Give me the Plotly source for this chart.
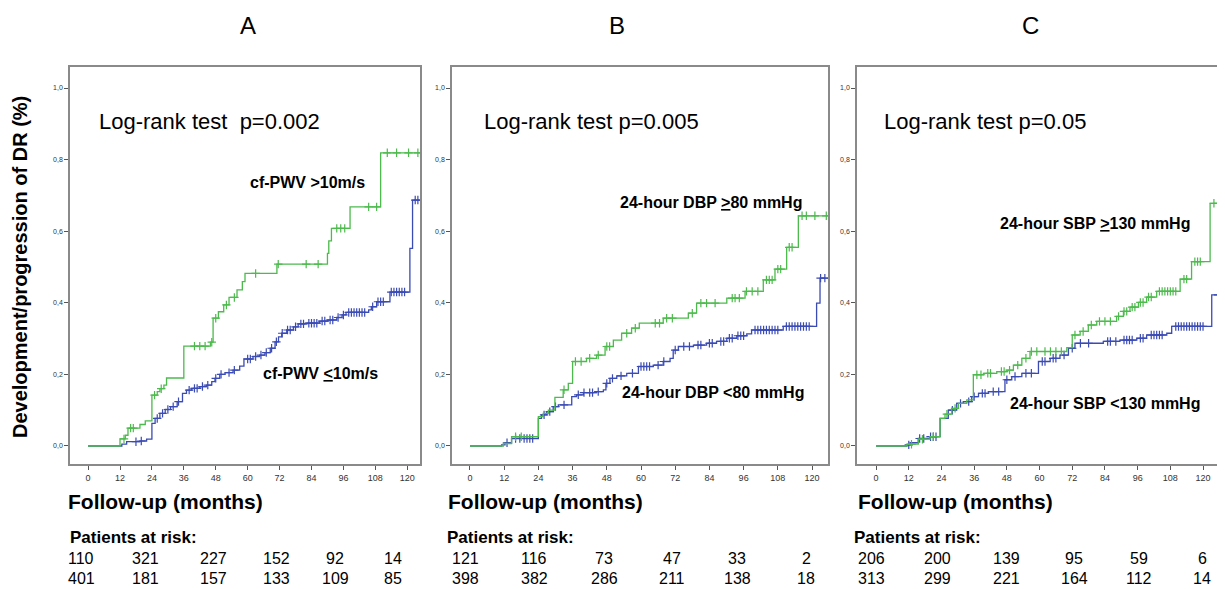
import plotly.graph_objects as go

W, H = 1225, 589
OFF = 8  # default page body margin in the written HTML

# ---------------- data ----------------
panel_titles = ["A", "B", "C"]
logrank_texts = ["Log-rank test\u00a0 p=0.002", "Log-rank test p=0.005", "Log-rank test p=0.05"]
hi_labels = ["cf-PWV >10m/s", "24-hour DBP <u>></u>80 mmHg", "24-hour SBP <u>></u>130 mmHg"]
lo_labels = ["cf-PWV <u><</u>10m/s", "24-hour DBP <80 mmHg", "24-hour SBP <130 mmHg"]

x_ticks = [0, 12, 24, 36, 48, 60, 72, 84, 96, 108, 120]
y_ticks = [0.0, 0.2, 0.4, 0.6, 0.8, 1.0]
y_tick_labels = ["0,0", "0,2", "0,4", "0,6", "0,8", "1,0"]

# Panel A
a_hi_t = [0, 12, 14, 15, 19.5, 21.5, 24, 26, 27, 28.5, 29.5, 36, 46, 47, 49, 51, 53, 56, 58, 59, 71,
          90, 90.5, 91.5, 98.5, 110, 124.8]
a_hi_v = [0, 0.02, 0.03, 0.05, 0.06, 0.07, 0.142, 0.152, 0.16, 0.17, 0.19, 0.279, 0.29, 0.357, 0.375,
          0.394, 0.415, 0.436, 0.459, 0.482, 0.508, 0.538, 0.573, 0.608, 0.668, 0.819, 0.819]
a_hi_cens = [13.5, 16, 17, 25, 27.5, 40, 42, 44, 46.5, 48, 52, 55, 63, 71.5, 82, 86.5, 93.5, 95, 96.5,
             105.5, 108.5, 112.5, 116, 120.5, 124]
a_lo_t = [0, 12, 12.7, 14.5, 19.5, 22, 24, 25.2, 27, 29, 31, 33.5, 35.5, 37, 39, 42, 44.5, 46.5, 47.7,
          49.5, 51.5, 54.5, 57, 58.6, 62, 64.5, 66.5, 68.5, 70.3, 71.6, 72.8, 74.7, 77.2, 79, 82, 87, 90,
          93.5, 95.5, 97, 105.5, 106.5, 108.5, 113.5, 121, 122, 124.8]
a_lo_v = [0, 0.0, 0.005, 0.012, 0.014, 0.019, 0.063, 0.077, 0.091, 0.102, 0.110, 0.124, 0.147, 0.156,
          0.161, 0.166, 0.170, 0.180, 0.189, 0.200, 0.205, 0.212, 0.223, 0.243, 0.250, 0.254, 0.261,
          0.273, 0.291, 0.305, 0.315, 0.324, 0.333, 0.341, 0.343, 0.349, 0.352, 0.359, 0.366, 0.373,
          0.380, 0.389, 0.403, 0.430, 0.552, 0.687, 0.687]
a_lo_cens = [18, 20, 26, 28, 30, 32, 34, 38, 40, 41, 43, 45, 48, 50, 53, 55, 60, 61, 63, 65, 67, 69,
             70.8, 73, 75, 76, 78, 80, 81, 83, 84, 85, 86, 88, 89, 91, 92, 94, 96, 98, 99, 100, 101, 102,
             103, 104, 107, 109, 110, 111, 114, 115, 116, 117, 118, 119, 123, 124]

# Panel B
b_hi_t = [0, 11.7, 14.6, 24, 25.7, 27.5, 29.8, 32.7, 34.5, 36, 40.9, 44.4, 47.4, 50.3, 53.2, 56.7,
          59.4, 67.8, 76.6, 79.5, 90.1, 96.5, 102.9, 107, 111.1, 115.2, 125.6]
b_hi_v = [0, 0.007, 0.026, 0.082, 0.091, 0.10, 0.136, 0.157, 0.175, 0.236, 0.245, 0.254, 0.278, 0.296,
          0.315, 0.329, 0.343, 0.357, 0.371, 0.399, 0.413, 0.432, 0.464, 0.494, 0.555, 0.643, 0.643]
b_hi_cens = [16, 18, 33, 37, 39, 42, 45, 48, 49, 55, 58, 65, 66.5, 69, 71, 78, 81, 83, 86, 92, 93,
             94.5, 97, 99, 101, 104, 105, 106, 108, 109, 112, 113, 116.5, 118, 121, 125]
b_lo_t = [0, 11.1, 12.3, 14.6, 24, 25.1, 26.9, 29.2, 31, 35.7, 37.4, 39.8, 44.4, 46.8, 47.7, 49.1,
          51.5, 55, 59.1, 64.3, 67.8, 70.2, 71.3, 73.1, 78.4, 83, 86.5, 90.1, 93.6, 97.1, 98.8, 109.9,
          121.6, 122.8, 125.6]
b_lo_v = [0, 0.003, 0.009, 0.021, 0.077, 0.087, 0.096, 0.11, 0.115, 0.138, 0.143, 0.149, 0.152, 0.157,
          0.175, 0.189, 0.196, 0.203, 0.222, 0.226, 0.236, 0.245, 0.268, 0.278, 0.282, 0.287, 0.292,
          0.301, 0.308, 0.313, 0.324, 0.334, 0.399, 0.469, 0.469]
b_lo_cens = [13, 16, 17.5, 19, 20, 21, 22, 26, 28, 30, 33, 38, 40, 42, 43, 45, 48, 50, 53, 57, 60, 61,
             62, 63, 66, 68, 72, 75, 77, 80, 81, 84, 85, 88, 89, 91, 92, 94, 95, 96, 100, 101, 102, 103,
             104, 105, 106, 107, 108, 111, 112, 113, 114, 115, 116, 117, 118, 119, 123, 124.5]

# Panel C
c_hi_t = [0, 11.3, 15.5, 19.8, 23.5, 25.3, 27.8, 30.2, 33.3, 35.7, 39.4, 44.3, 48, 50.4, 53.5, 56.5,
          70, 72, 74.9, 77.9, 81, 88.3, 90.8, 93.2, 96.3, 99.3, 103, 111.6, 115.8, 122.6, 126.5]
c_hi_v = [0, 0.005, 0.019, 0.026, 0.077, 0.089, 0.105, 0.119, 0.129, 0.199, 0.203, 0.208, 0.212, 0.226,
          0.245, 0.264, 0.275, 0.31, 0.32, 0.338, 0.348, 0.362, 0.376, 0.388, 0.401, 0.416, 0.432,
          0.466, 0.515, 0.678, 0.678]
c_hi_cens = [13, 17, 21, 26, 29, 37, 38.5, 41, 42, 46, 47, 49, 52, 55, 57, 59, 62, 64, 66, 68, 73, 76,
             79, 82, 84, 86, 89, 91, 92, 94, 95, 97, 98, 100, 101, 104, 105, 106, 107, 108, 109, 110,
             113, 114, 117, 118, 119, 124, 125.5]
c_lo_t = [0, 11.3, 12.5, 15.5, 19.8, 23.5, 26.5, 29.6, 32, 35.1, 37.6, 41.2, 47.3, 49.8, 53.5, 59.6,
          63.9, 67.5, 70.6, 73, 83.4, 89.5, 95.7, 99.3, 106.7, 108.5, 123.2, 126.5]
c_lo_v = [0, 0.003, 0.009, 0.021, 0.026, 0.077, 0.1, 0.119, 0.124, 0.138, 0.147, 0.152, 0.185, 0.194,
          0.203, 0.236, 0.245, 0.254, 0.273, 0.287, 0.292, 0.296, 0.301, 0.310, 0.315, 0.334, 0.422,
          0.422]
c_lo_cens = [12, 16, 17.5, 20, 21, 22, 28, 31, 34, 36, 39, 40, 43, 45, 48, 51, 55, 57, 61, 62, 65, 66,
             69, 72, 75, 78, 85, 86, 88, 91, 92, 93, 94, 97, 98, 101, 102, 103, 104, 105, 110, 111, 112,
             113, 114, 115, 116, 117, 118, 119, 120, 125.5]

at_risk_hi = [[110, 321, 227, 152, 92, 14], [121, 116, 73, 47, 33, 2], [206, 200, 139, 95, 59, 6]]
at_risk_lo = [[401, 181, 157, 133, 109, 85], [398, 382, 286, 211, 138, 18], [313, 299, 221, 164, 112, 14]]

# ---------------- layout geometry (reference pixels) ----------------
GREEN = "#4cba4c"
BLUE = "#3b4bb4"
FRAME = "#8a8a8a"
FONT = "Arial"

panels = [
    dict(hi=(a_hi_t, a_hi_v, a_hi_cens), lo=(a_lo_t, a_lo_v, a_lo_cens),
         px=(70, 420), xr=(-6.8, 124.8), title_x=248, lr_x=97,
         hi_lab=(307, 182), lo_lab=(320, 373), fu_x=66, par_x=68,
         cols=[81, 145, 213, 276, 335, 393]),
    dict(hi=(b_hi_t, b_hi_v, b_hi_cens), lo=(b_lo_t, b_lo_v, b_lo_cens),
         px=(452, 828), xr=(-6.3, 125.6), title_x=617, lr_x=482,
         hi_lab=(711, 202), lo_lab=(713, 392), fu_x=446, par_x=445,
         cols=[466, 534, 604, 672, 737, 806]),
    dict(hi=(c_hi_t, c_hi_v, c_hi_cens), lo=(c_lo_t, c_lo_v, c_lo_cens),
         px=(857, 1221), xr=(-7.0, 126.6), title_x=1030, lr_x=882,
         hi_lab=(1095, 223), lo_lab=(1105, 403), fu_x=856, par_x=852,
         cols=[871, 937, 1006, 1074, 1139, 1202]),
]
PLOT_TOP, PLOT_BOT = 67, 464
Y_RANGE = (-0.0503, 1.0587)

FW, FH = W - OFF, H - OFF


def fx(p):
    return (p - OFF) / FW


def fy(p):
    return 1 - (p - OFF) / FH


def step_value(ts, vs, c):
    val = vs[0]
    for t, v in zip(ts, vs):
        if t <= c:
            val = v
        else:
            break
    return val


fig = go.Figure()
annotations = []


def ann(text, x, y, size, bold=False, xanchor="center", family=FONT, pad=1):
    annotations.append(dict(text=("<b>%s</b>" % text) if bold else text, x=fx(x), y=fy(y),
                            xref="paper", yref="paper", showarrow=False, xanchor=xanchor,
                            yanchor="middle", borderpad=pad,
                            font=dict(family=family, size=size, color="black")))


for i, p in enumerate(panels):
    suffix = "" if i == 0 else str(i + 1)
    xa, ya = "x" + suffix, "y" + suffix
    for key, color in (("lo", BLUE), ("hi", GREEN)):
        ts, vs, cens = p[key]
        fig.add_trace(go.Scatter(x=ts, y=vs, mode="lines", line=dict(color=color, width=1.3, shape="hv"),
                                 xaxis=xa, yaxis=ya, showlegend=False, hoverinfo="skip"))
        fig.add_trace(go.Scatter(x=cens, y=[step_value(ts, vs, c) for c in cens], mode="markers",
                                 marker=dict(symbol="cross-thin", size=6, line=dict(color=color, width=1.2)),
                                 xaxis=xa, yaxis=ya, showlegend=False, hoverinfo="skip"))

    axis_common = dict(showline=True, mirror=True, linecolor=FRAME, linewidth=1.5, showgrid=False,
                       zeroline=False, ticks="outside", ticklen=4, tickcolor="#555", tickwidth=1)
    fig.update_layout(**{
        "xaxis" + suffix: dict(axis_common, domain=[fx(p["px"][0]), fx(p["px"][1])], range=list(p["xr"]),
                               tickvals=x_ticks, ticktext=[str(t) for t in x_ticks],
                               tickfont=dict(family=FONT, size=9, color="#333"), anchor=ya),
        "yaxis" + suffix: dict(axis_common, domain=[fy(PLOT_BOT), fy(PLOT_TOP)], range=list(Y_RANGE),
                               tickvals=y_ticks, ticktext=y_tick_labels,
                               tickfont=dict(family=FONT, size=7, color="#333"), anchor=xa),
    })

    ann(panel_titles[i], p["title_x"], 25, 24)
    ann(logrank_texts[i], p["lr_x"], 121, 22, xanchor="left")
    ann(hi_labels[i], p["hi_lab"][0], p["hi_lab"][1], 16, bold=True)
    ann(lo_labels[i], p["lo_lab"][0], p["lo_lab"][1], 16, bold=True)
    ann("Follow-up (months)", p["fu_x"], 501, 21, bold=True, xanchor="left")
    ann("Patients at risk:", p["par_x"], 537, 17, bold=True, xanchor="left")
    for col_x, n_hi, n_lo in zip(p["cols"], at_risk_hi[i], at_risk_lo[i]):
        ann(str(n_hi), col_x, 558, 16, pad=0)
        ann(str(n_lo), col_x, 578.5, 16, pad=0)

annotations.append(dict(text="<b>Development/progression of DR (%)</b>", x=fx(20), y=fy(267), xref="paper",
                        yref="paper", showarrow=False, textangle=-90, xanchor="center", yanchor="middle",
                        font=dict(family=FONT, size=20, color="black")))

fig.update_layout(width=FW, height=FH, margin=dict(l=0, r=0, t=0, b=0), plot_bgcolor="white",
                  paper_bgcolor="white", annotations=annotations, showlegend=False)

fig.write_html("out.html")
